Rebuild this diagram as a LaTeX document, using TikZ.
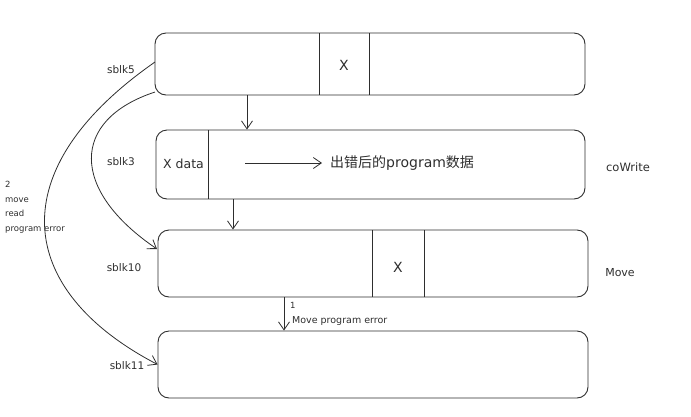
\documentclass[tikz,border=0pt]{standalone}
\usepackage{fontspec}
\setmainfont{DejaVu Sans}
\newfontfamily\cjk{Noto Sans CJK SC}
\usetikzlibrary{arrows.meta}
\definecolor{ink}{HTML}{2E2E2E}
\begin{document}
\begin{tikzpicture}[x=1pt,y=-1pt,
  blk/.style={draw=ink, line width=0.9pt, rounded corners=11pt, inner sep=0pt},
  arr/.style={draw=ink, line width=0.8pt, -{Straight Barb[length=8pt,width=11pt]}},
  lbl/.style={font=\fontsize{10.5}{12}\selectfont, text=ink, inner sep=0pt},
  small/.style={font=\fontsize{8.5}{14.5}\selectfont, text=ink, inner sep=0pt, align=left},
  cell/.style={draw=ink, line width=0.9pt}]
\useasboundingbox (0,0) rectangle (691,416);

% the four blocks
\node[blk, minimum width=430pt, minimum height=62pt] (b1) at (370,64) {};
\node[blk, minimum width=429pt, minimum height=69pt] (b2) at (370.5,164.5) {};
\node[blk, minimum width=430pt, minimum height=67pt] (b3) at (373,263.5) {};
\node[blk, minimum width=430pt, minimum height=67pt] (b4) at (373,364.5) {};

% cell dividers
\draw[cell] (319,33) -- (319,95);
\draw[cell] (369,33) -- (369,95);
\draw[cell] (208,130) -- (208,199);
\draw[cell] (372,230) -- (372,297);
\draw[cell] (424,230) -- (424,297);

% cell contents
\node[font=\fontsize{14}{16}\selectfont, text=ink] (x1) at (344,65) {X};
\node[font=\fontsize{14}{16}\selectfont, text=ink] (x3) at (398,267) {X};
\node[lbl, anchor=west, font=\fontsize{12.5}{14}\selectfont] (xd) at (163,164) {X data};
\node[anchor=west, inner sep=0pt, font=\fontsize{14}{16}\selectfont, text=ink] (res) at (330,163) {{\cjk 出错后的}program{\cjk 数据}};
\coordinate (rs) at (245,163);
\coordinate (re) at (322,163);
\draw[arr] (rs) -- (re);

% block labels
\node[lbl] (l1) at (121,70) {sblk5};
\node[lbl] (l2) at (121,162) {sblk3};
\node[lbl] (l3) at (124,268) {sblk10};
\node[lbl] (l4) at (127,366) {sblk11};
\node[lbl, font=\fontsize{11.5}{13}\selectfont] (cw) at (628,167) {coWrite};
\node[lbl, font=\fontsize{11}{13}\selectfont] (mv) at (620,273) {Move};

% vertical flow arrows
\draw[arr] (b1.south -| 247,0) -- (b2.north -| 247,0);
\draw[arr] (b2.south -| 233,0) -- (b3.north -| 233,0);
\draw[arr] (b3.south -| 284,0) -- (b4.north -| 284,0);
\node[small, anchor=west] (n1) at (290,305) {1};
\node[small, anchor=west, font=\fontsize{9.5}{12}\selectfont] (m1) at (292,321) {Move program error};

% curved side arrows
\coordinate (c1) at (155,62);
\coordinate (c2) at (155,92);
\coordinate (t3) at (157,249);
\draw[arr] (c1) .. controls (0,170) and (15,290) .. (b4.west);
\draw[arr] (c2) .. controls (70,120) and (70,190) .. (t3);

\node[small, anchor=north west] (n2) at (5,181) {2\\move\\read\\program error};
\end{tikzpicture}
\end{document}
